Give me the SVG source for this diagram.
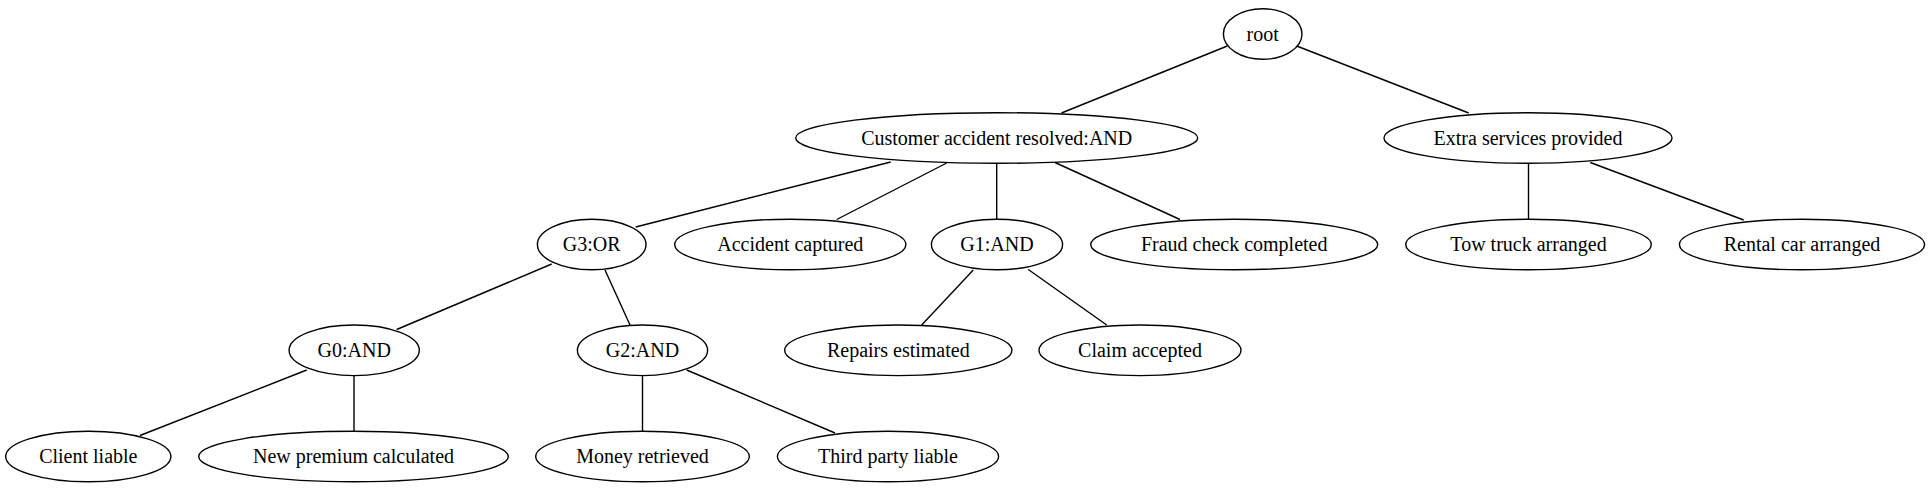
<svg xmlns="http://www.w3.org/2000/svg" width="1932" height="489" viewBox="0 0 1932 489" font-family="Liberation Serif">
<style>
ellipse{fill:none;stroke:#000;stroke-width:1.4}
text{font-size:20px;text-anchor:middle;fill:#000}
#edges line{stroke:#000;stroke-width:1.4}
</style>
<rect width="1932" height="489" fill="#fff"/>
<g id="edges">
<line x1="1227.3" y1="46" x2="1061.5" y2="113"/>
<line x1="1296.7" y1="46" x2="1468.7" y2="113"/>
<line x1="890.7" y1="162" x2="635.7" y2="227"/>
<line x1="946.7" y1="163" x2="836.7" y2="219.5"/>
<line x1="996.7" y1="163" x2="996.7" y2="219"/>
<line x1="1055" y1="162.5" x2="1180" y2="219.5"/>
<line x1="1528.5" y1="163" x2="1528.5" y2="219"/>
<line x1="1590.3" y1="162.5" x2="1743.7" y2="220"/>
<line x1="551.7" y1="264" x2="396.7" y2="329.5"/>
<line x1="605" y1="270" x2="630" y2="325"/>
<line x1="973.3" y1="270" x2="921.7" y2="325"/>
<line x1="1028.3" y1="269.5" x2="1106.7" y2="325"/>
<line x1="306.7" y1="370" x2="140" y2="435.5"/>
<line x1="354" y1="376" x2="354" y2="431"/>
<line x1="642.5" y1="376" x2="642.5" y2="431"/>
<line x1="686.7" y1="370" x2="835" y2="433"/>
</g>
<g id="root"><ellipse cx="1262.7" cy="34" rx="39.3" ry="25.3"/><text x="1262.7" y="40.5" font-family="Liberation Serif">root</text></g>
<g id="customer"><ellipse cx="996.7" cy="138" rx="201" ry="25.3"/><text x="996.7" y="144.5" font-family="Liberation Serif">Customer accident resolved:AND</text></g>
<g id="extra"><ellipse cx="1528" cy="138" rx="144" ry="25.3"/><text x="1528" y="144.5" font-family="Liberation Serif">Extra services provided</text></g>
<g id="g3"><ellipse cx="591.7" cy="244.5" rx="54.3" ry="25.3"/><text x="591.7" y="251" font-family="Liberation Serif">G3:OR</text></g>
<g id="accident"><ellipse cx="790.3" cy="244.5" rx="115.6" ry="25.3"/><text x="790.3" y="251" font-family="Liberation Serif">Accident captured</text></g>
<g id="g1"><ellipse cx="997" cy="244.5" rx="65.6" ry="25.3"/><text x="997" y="251" font-family="Liberation Serif">G1:AND</text></g>
<g id="fraud"><ellipse cx="1234.2" cy="244.5" rx="143.5" ry="25.3"/><text x="1234.2" y="251" font-family="Liberation Serif">Fraud check completed</text></g>
<g id="tow"><ellipse cx="1528.5" cy="244.5" rx="122.8" ry="25.3"/><text x="1528.5" y="251" font-family="Liberation Serif">Tow truck arranged</text></g>
<g id="rental"><ellipse cx="1802" cy="244.5" rx="122.6" ry="25.3"/><text x="1802" y="251" font-family="Liberation Serif">Rental car arranged</text></g>
<g id="g0"><ellipse cx="354.2" cy="350.3" rx="65.1" ry="25.3"/><text x="354.2" y="356.8" font-family="Liberation Serif">G0:AND</text></g>
<g id="g2"><ellipse cx="642.5" cy="350.3" rx="65.1" ry="25.3"/><text x="642.5" y="356.8" font-family="Liberation Serif">G2:AND</text></g>
<g id="repairs"><ellipse cx="898.3" cy="350.3" rx="113.6" ry="25.3"/><text x="898.3" y="356.8" font-family="Liberation Serif">Repairs estimated</text></g>
<g id="claim"><ellipse cx="1140" cy="350.3" rx="101" ry="25.3"/><text x="1140" y="356.8" font-family="Liberation Serif">Claim accepted</text></g>
<g id="client"><ellipse cx="88.3" cy="456.5" rx="82.6" ry="25.3"/><text x="88.3" y="463" font-family="Liberation Serif">Client liable</text></g>
<g id="premium"><ellipse cx="353.5" cy="456.5" rx="154.8" ry="25.3"/><text x="353.5" y="463" font-family="Liberation Serif">New premium calculated</text></g>
<g id="money"><ellipse cx="642.5" cy="456.5" rx="106.8" ry="25.3"/><text x="642.5" y="463" font-family="Liberation Serif">Money retrieved</text></g>
<g id="third"><ellipse cx="888" cy="456.5" rx="110.6" ry="25.3"/><text x="888" y="463" font-family="Liberation Serif">Third party liable</text></g>
</svg>
